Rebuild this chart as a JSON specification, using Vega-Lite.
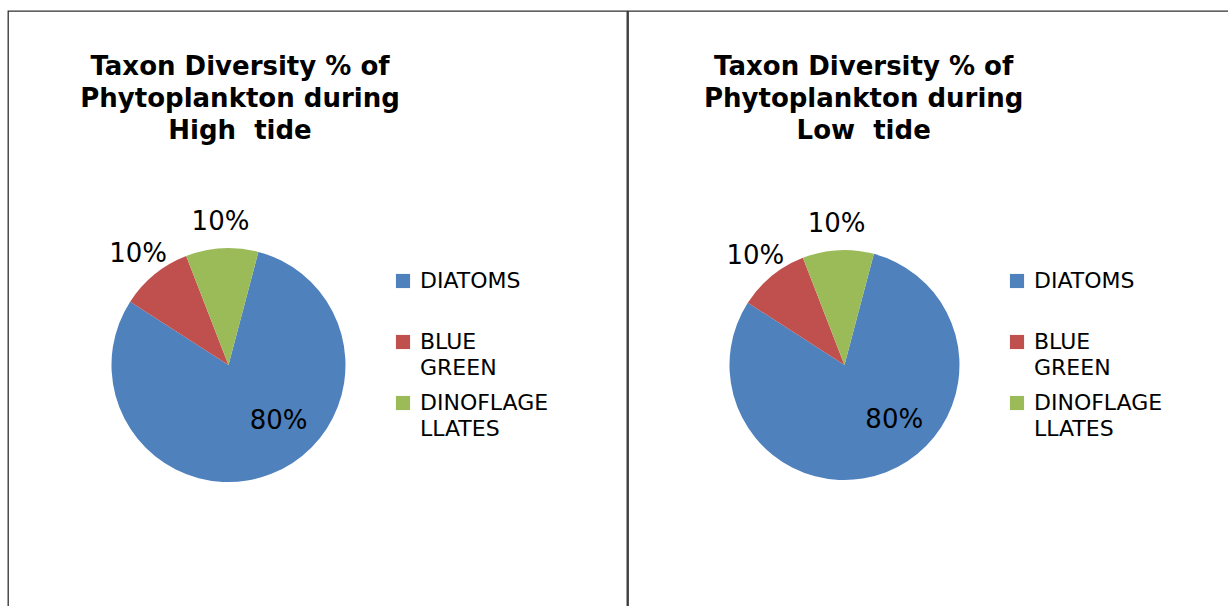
{
  "$schema": "https://vega.github.io/schema/vega-lite/v6.json",
  "padding": {"left": 7, "top": 10, "right": 0, "bottom": 0},
  "background": "white",
  "spacing": -2,
  "config": {
    "view": {"stroke": "#303030", "strokeWidth": 1.3},
    "font": "DejaVu Sans",
    "style": {"guide-label": {"lineHeight": 26}},
    "legend": {
      "title": null,
      "orient": "none",
      "symbolType": "square",
      "symbolSize": 200,
      "symbolStrokeWidth": 0,
      "symbolOpacity": 1,
      "labelFont": "DejaVu Sans",
      "labelFontSize": 22,
      "labelColor": "black",
      "labelOffset": 6,
      "labelLimit": 300,
      "labelBaseline": "middle",
      "gridAlign": "all",
      "rowPadding": 13
    }
  },
  "data": {
    "values": [
      {"tide": "High", "group": "DIATOMS", "value": 0.8, "rank": 1},
      {"tide": "High", "group": "BLUE GREEN", "value": 0.1, "rank": 2},
      {"tide": "High", "group": "DINOFLAGELLATES", "value": 0.1, "rank": 3},
      {"tide": "Low", "group": "DIATOMS", "value": 0.8, "rank": 1},
      {"tide": "Low", "group": "BLUE GREEN", "value": 0.1, "rank": 2},
      {"tide": "Low", "group": "DINOFLAGELLATES", "value": 0.1, "rank": 3}
    ]
  },
  "hconcat": [
    {
      "width": 619,
      "height": 596,
      "transform": [{"filter": "datum.tide == 'High'"}],
      "layer": [
        {
          "mark": {"type": "arc", "outerRadius": 117},
          "encoding": {
            "theta": {"field": "value", "type": "quantitative", "stack": true, "scale": {"range": [0.2583, 6.5415]}},
            "order": {"field": "rank", "type": "quantitative"},
            "color": {
              "field": "group",
              "type": "nominal",
              "scale": {"domain": ["DIATOMS", "BLUE GREEN", "DINOFLAGELLATES"], "range": ["#4F81BD", "#C0504D", "#9BBB59"]},
              "legend": {
                "legendX": 384,
                "legendY": 259,
                "labelExpr": "datum.label == 'BLUE GREEN' ? ['BLUE', 'GREEN'] : datum.label == 'DINOFLAGELLATES' ? ['DINOFLAGE', 'LLATES'] : datum.label"
              }
            },
            "x": {"datum": 0.3562, "type": "quantitative", "scale": {"domain": [0, 1]}, "axis": null},
            "y": {"datum": 0.594, "type": "quantitative", "scale": {"domain": [0, 1], "reverse": true}, "axis": null}
          }
        },
        {
          "mark": {"type": "text", "radius": 143, "fontSize": 26, "font": "DejaVu Sans", "align": "center", "baseline": "middle"},
          "encoding": {
            "theta": {"field": "value", "type": "quantitative", "stack": true},
            "order": {"field": "rank", "type": "quantitative"},
            "x": {"datum": 0.3562, "type": "quantitative"},
            "y": {"datum": 0.594, "type": "quantitative"},
            "text": {"field": "value", "type": "quantitative", "format": ".0%"},
            "opacity": {"condition": {"test": "datum.value < 0.5", "value": 1}, "value": 0},
            "color": {"value": "black"}
          }
        },
        {
          "mark": {"type": "text", "radius": 75, "dx": 23, "dy": -14, "fontSize": 26, "font": "DejaVu Sans", "align": "center", "baseline": "middle"},
          "encoding": {
            "theta": {"field": "value", "type": "quantitative", "stack": true},
            "order": {"field": "rank", "type": "quantitative"},
            "x": {"datum": 0.3562, "type": "quantitative"},
            "y": {"datum": 0.594, "type": "quantitative"},
            "text": {"field": "value", "type": "quantitative", "format": ".0%"},
            "opacity": {"condition": {"test": "datum.value >= 0.5", "value": 1}, "value": 0},
            "color": {"value": "black"}
          }
        },
        {
          "transform": [{"filter": "datum.rank == 1"}],
          "mark": {"type": "text", "text": ["Taxon Diversity % of", "Phytoplankton during", "High \u00a0tide"], "fontSize": 26, "fontWeight": "bold", "font": "DejaVu Sans", "lineHeight": 32, "align": "center", "baseline": "top", "color": "black"},
          "encoding": {
            "x": {"datum": 0.3748, "type": "quantitative"},
            "y": {"datum": 0.072, "type": "quantitative"}
          }
        }
      ]
    },
    {
      "width": 602,
      "height": 596,
      "transform": [{"filter": "datum.tide == 'Low'"}],
      "layer": [
        {
          "mark": {"type": "arc", "outerRadius": 115},
          "encoding": {
            "theta": {"field": "value", "type": "quantitative", "stack": true, "scale": {"range": [0.2583, 6.5415]}},
            "order": {"field": "rank", "type": "quantitative"},
            "color": {
              "field": "group",
              "type": "nominal",
              "scale": {"domain": ["DIATOMS", "BLUE GREEN", "DINOFLAGELLATES"], "range": ["#4F81BD", "#C0504D", "#9BBB59"]},
              "legend": {
                "legendX": 378,
                "legendY": 259,
                "labelExpr": "datum.label == 'BLUE GREEN' ? ['BLUE', 'GREEN'] : datum.label == 'DINOFLAGELLATES' ? ['DINOFLAGE', 'LLATES'] : datum.label"
              }
            },
            "x": {"datum": 0.3596, "type": "quantitative", "scale": {"domain": [0, 1]}, "axis": null},
            "y": {"datum": 0.594, "type": "quantitative", "scale": {"domain": [0, 1], "reverse": true}, "axis": null}
          }
        },
        {
          "mark": {"type": "text", "radius": 141, "fontSize": 26, "font": "DejaVu Sans", "align": "center", "baseline": "middle"},
          "encoding": {
            "theta": {"field": "value", "type": "quantitative", "stack": true},
            "order": {"field": "rank", "type": "quantitative"},
            "x": {"datum": 0.3596, "type": "quantitative"},
            "y": {"datum": 0.594, "type": "quantitative"},
            "text": {"field": "value", "type": "quantitative", "format": ".0%"},
            "opacity": {"condition": {"test": "datum.value < 0.5", "value": 1}, "value": 0},
            "color": {"value": "black"}
          }
        },
        {
          "mark": {"type": "text", "radius": 74, "dx": 23, "dy": -14, "fontSize": 26, "font": "DejaVu Sans", "align": "center", "baseline": "middle"},
          "encoding": {
            "theta": {"field": "value", "type": "quantitative", "stack": true},
            "order": {"field": "rank", "type": "quantitative"},
            "x": {"datum": 0.3596, "type": "quantitative"},
            "y": {"datum": 0.594, "type": "quantitative"},
            "text": {"field": "value", "type": "quantitative", "format": ".0%"},
            "opacity": {"condition": {"test": "datum.value >= 0.5", "value": 1}, "value": 0},
            "color": {"value": "black"}
          }
        },
        {
          "transform": [{"filter": "datum.rank == 1"}],
          "mark": {"type": "text", "text": ["Taxon Diversity % of", "Phytoplankton during", "Low \u00a0tide"], "fontSize": 26, "fontWeight": "bold", "font": "DejaVu Sans", "lineHeight": 32, "align": "center", "baseline": "top", "color": "black"},
          "encoding": {
            "x": {"datum": 0.3915, "type": "quantitative"},
            "y": {"datum": 0.072, "type": "quantitative"}
          }
        }
      ]
    }
  ],
  "resolve": {"scale": {"color": "independent", "theta": "independent", "x": "independent", "y": "independent"}, "legend": {"color": "independent"}}
}
